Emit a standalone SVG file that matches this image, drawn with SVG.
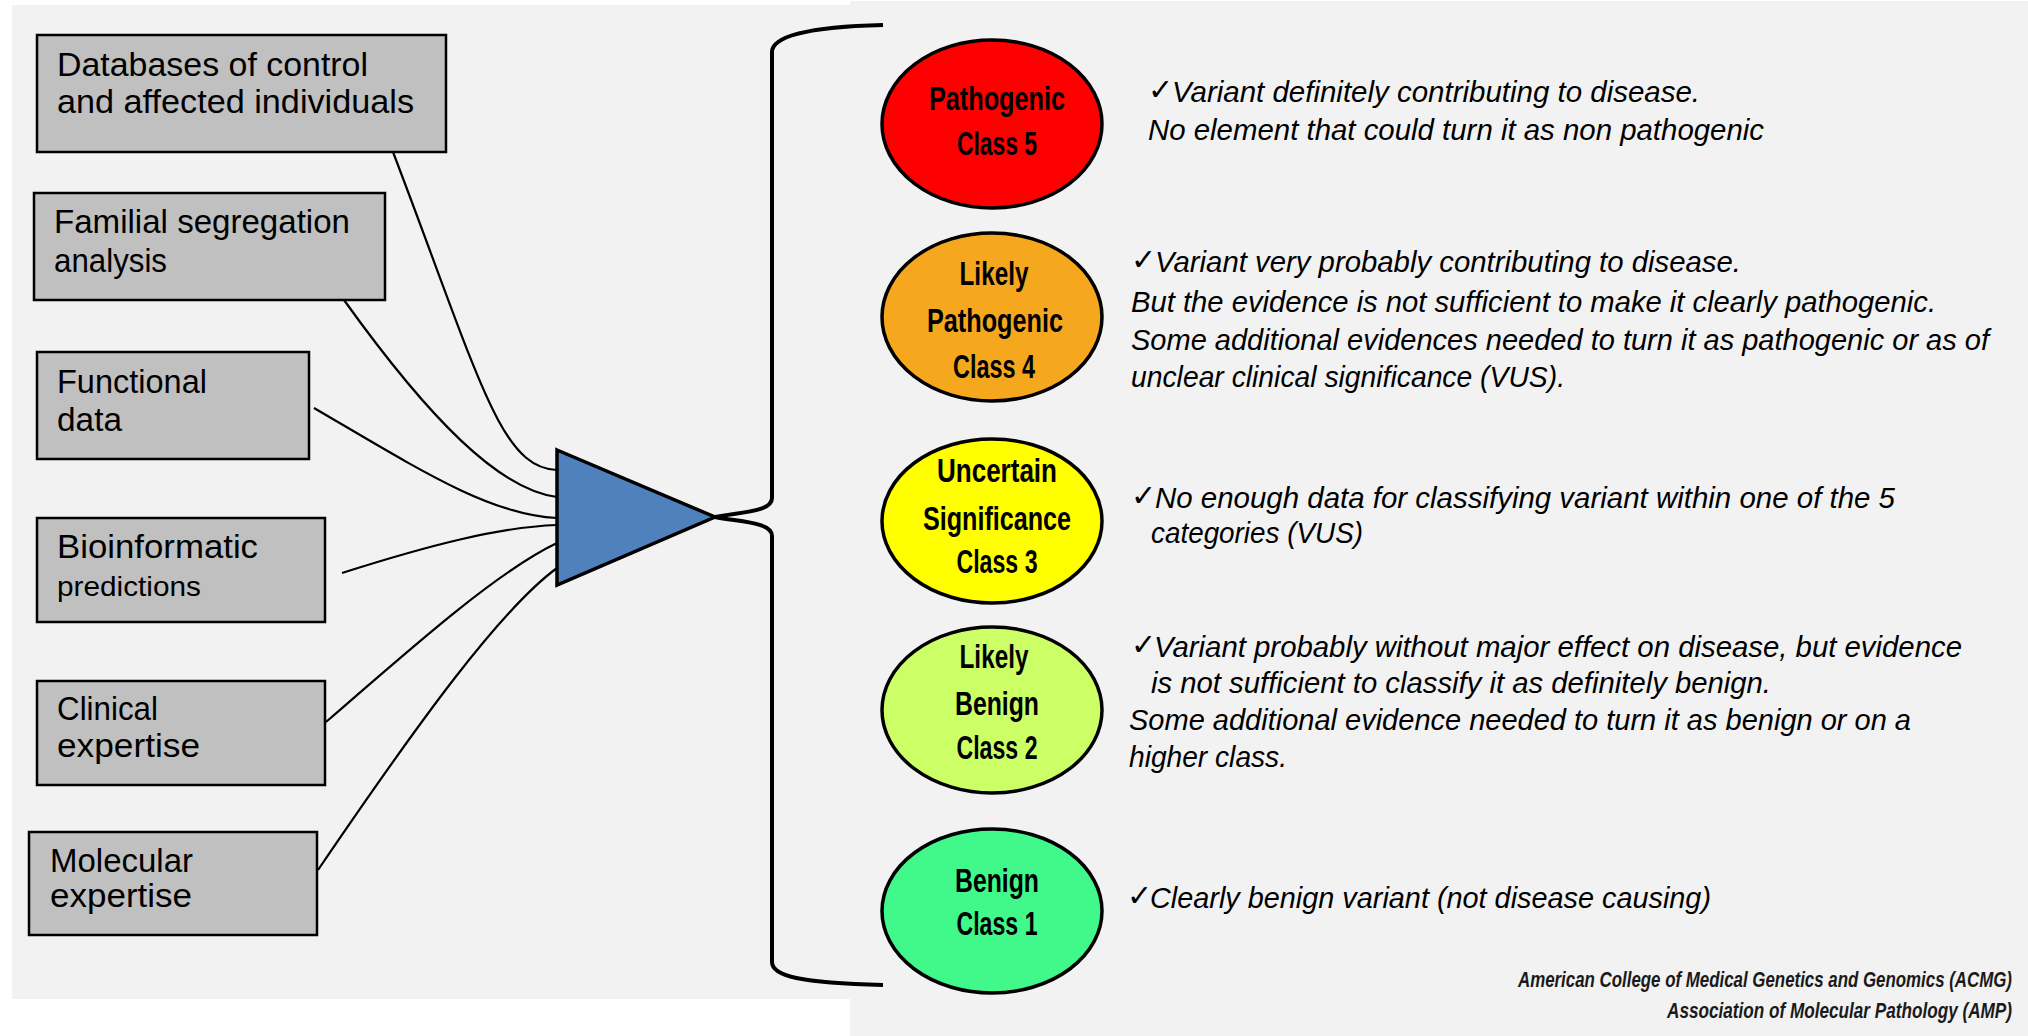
<svg xmlns="http://www.w3.org/2000/svg" width="2028" height="1036" viewBox="0 0 2028 1036">
<style>
.box{fill:#c0c0c0;stroke:#000;stroke-width:2.5}
.bt{font-family:"Liberation Sans","DejaVu Sans",sans-serif;font-size:33px;fill:#000}
.ct{font-family:"Liberation Sans",sans-serif;font-weight:bold;font-size:34px;fill:#000;text-anchor:middle}
.circ{stroke:#000;stroke-width:3.5}
.dt{font-family:"Liberation Sans",sans-serif;font-style:italic;font-size:30px;fill:#000}
.ck{font-family:"DejaVu Sans",sans-serif;font-size:30px;fill:#000}
.ft{font-family:"Liberation Sans",sans-serif;font-style:italic;font-weight:bold;font-size:17px;fill:#1a1a1a}
.con{fill:none;stroke:#000;stroke-width:2.2}
.br{fill:none;stroke:#000;stroke-width:4}
</style>
<rect x="0" y="0" width="2028" height="1036" fill="#ffffff"/>
<rect x="12" y="5" width="838" height="994" fill="#f2f2f2"/>
<rect x="850" y="1" width="1178" height="1035" fill="#f2f2f2"/>

<g id="connectors">
<path class="con" d="M393,152 C480,380 500,468 557,470"/>
<path class="con" d="M344,300 C430,420 500,490 557,497"/>
<path class="con" d="M314,408 C420,470 490,515 557,518"/>
<path class="con" d="M342,573 C430,545 500,527 557,525"/>
<path class="con" d="M326,722 C420,640 500,570 557,543"/>
<path class="con" d="M318,870 C420,720 500,610 557,568"/>
<path class="br" d="M715,517 C740,512 772,512 772,498 L772,52 C772,38 800,27 883,25"/>
<path class="br" d="M715,517 C740,522 772,522 772,536 L772,962 C772,976 800,983 883,985"/>
</g>

<g id="box1"><rect class="box" x="37" y="35" width="409" height="117"/>
<text class="bt" x="57" y="76" textLength="311" lengthAdjust="spacingAndGlyphs">Databases of control</text>
<text class="bt" x="57" y="113" textLength="357" lengthAdjust="spacingAndGlyphs">and affected individuals</text></g>
<g id="box2"><rect class="box" x="34" y="193" width="351" height="107"/>
<text class="bt" x="54" y="233" textLength="296" lengthAdjust="spacingAndGlyphs">Familial segregation</text>
<text class="bt" x="54" y="272" textLength="113" lengthAdjust="spacingAndGlyphs">analysis</text></g>
<g id="box3"><rect class="box" x="37" y="352" width="272" height="107"/>
<text class="bt" x="57" y="393" textLength="150" lengthAdjust="spacingAndGlyphs">Functional</text>
<text class="bt" x="57" y="431" textLength="65" lengthAdjust="spacingAndGlyphs">data</text></g>
<g id="box4"><rect class="box" x="37" y="518" width="288" height="104"/>
<text class="bt" x="57" y="558" textLength="201" lengthAdjust="spacingAndGlyphs">Bioinformatic</text>
<text class="bt" x="57" y="596" style="font-size:28px" textLength="144" lengthAdjust="spacingAndGlyphs">predictions</text></g>
<g id="box5"><rect class="box" x="37" y="681" width="288" height="104"/>
<text class="bt" x="57" y="720" textLength="101" lengthAdjust="spacingAndGlyphs">Clinical</text>
<text class="bt" x="57" y="757" textLength="143" lengthAdjust="spacingAndGlyphs">expertise</text></g>
<g id="box6"><rect class="box" x="29" y="832" width="288" height="103"/>
<text class="bt" x="50" y="872" textLength="143" lengthAdjust="spacingAndGlyphs">Molecular</text>
<text class="bt" x="50" y="907" textLength="142" lengthAdjust="spacingAndGlyphs">expertise</text></g>

<g id="triangle"><polygon points="557,450 715,517 557,585" fill="#4f81bd" stroke="#000" stroke-width="3.5" stroke-linejoin="miter"/></g>

<g id="class5"><ellipse class="circ" cx="992" cy="124" rx="110" ry="84" fill="#ff0000"/>
<text class="ct" x="997" y="110" textLength="136" lengthAdjust="spacingAndGlyphs">Pathogenic</text>
<text class="ct" x="997" y="155" textLength="80" lengthAdjust="spacingAndGlyphs">Class 5</text></g>
<g id="class4"><ellipse class="circ" cx="992" cy="317" rx="110" ry="84" fill="#f5a71d"/>
<text class="ct" x="994" y="285" textLength="69" lengthAdjust="spacingAndGlyphs">Likely</text>
<text class="ct" x="995" y="332" textLength="136" lengthAdjust="spacingAndGlyphs">Pathogenic</text>
<text class="ct" x="994" y="378" textLength="82" lengthAdjust="spacingAndGlyphs">Class 4</text></g>
<g id="class3"><ellipse class="circ" cx="992" cy="521" rx="110" ry="82" fill="#ffff00"/>
<text class="ct" x="997" y="482" textLength="120" lengthAdjust="spacingAndGlyphs">Uncertain</text>
<text class="ct" x="997" y="530" textLength="148" lengthAdjust="spacingAndGlyphs">Significance</text>
<text class="ct" x="997" y="573" textLength="81" lengthAdjust="spacingAndGlyphs">Class 3</text></g>
<g id="class2"><ellipse class="circ" cx="992" cy="710" rx="110" ry="83" fill="#ccff66"/>
<text class="ct" x="994" y="668" textLength="69" lengthAdjust="spacingAndGlyphs">Likely</text>
<text class="ct" x="997" y="715" textLength="84" lengthAdjust="spacingAndGlyphs">Benign</text>
<text class="ct" x="997" y="759" textLength="81" lengthAdjust="spacingAndGlyphs">Class 2</text></g>
<g id="class1"><ellipse class="circ" cx="992" cy="911" rx="110" ry="82" fill="#40f98a"/>
<text class="ct" x="997" y="892" textLength="84" lengthAdjust="spacingAndGlyphs">Benign</text>
<text class="ct" x="997" y="935" textLength="81" lengthAdjust="spacingAndGlyphs">Class 1</text></g>

<g id="desc5">
<text class="ck" x="1148" y="100">✓</text>
<text class="dt" x="1172" y="102" textLength="528" lengthAdjust="spacingAndGlyphs">Variant definitely contributing to disease.</text>
<text class="dt" x="1148" y="140" textLength="616" lengthAdjust="spacingAndGlyphs">No element that could turn it as non pathogenic</text>
</g>
<g id="desc4">
<text class="ck" x="1131" y="270">✓</text>
<text class="dt" x="1155" y="272" textLength="586" lengthAdjust="spacingAndGlyphs">Variant very probably contributing to disease.</text>
<text class="dt" x="1131" y="312" textLength="805" lengthAdjust="spacingAndGlyphs">But the evidence is not sufficient to make it clearly pathogenic.</text>
<text class="dt" x="1131" y="350" textLength="858" lengthAdjust="spacingAndGlyphs">Some additional evidences needed to turn it as pathogenic or as of</text>
<text class="dt" x="1131" y="387" textLength="434" lengthAdjust="spacingAndGlyphs">unclear clinical significance (VUS).</text>
</g>
<g id="desc3">
<text class="ck" x="1131" y="506">✓</text>
<text class="dt" x="1155" y="508" textLength="740" lengthAdjust="spacingAndGlyphs">No enough data for classifying variant within one of the 5</text>
<text class="dt" x="1151" y="543" textLength="212" lengthAdjust="spacingAndGlyphs">categories (VUS)</text>
</g>
<g id="desc2">
<text class="ck" x="1131" y="655">✓</text>
<text class="dt" x="1154" y="657" textLength="808" lengthAdjust="spacingAndGlyphs">Variant probably without major effect on disease, but evidence</text>
<text class="dt" x="1151" y="693" textLength="620" lengthAdjust="spacingAndGlyphs">is not sufficient to classify it as definitely benign.</text>
<text class="dt" x="1129" y="730" textLength="782" lengthAdjust="spacingAndGlyphs">Some additional evidence needed to turn it as benign or on a</text>
<text class="dt" x="1129" y="767" textLength="158" lengthAdjust="spacingAndGlyphs">higher class.</text>
</g>
<g id="desc1">
<text class="ck" x="1127" y="906">✓</text>
<text class="dt" x="1150" y="908" textLength="561" lengthAdjust="spacingAndGlyphs">Clearly benign variant (not disease causing)</text>
</g>
<g id="footer">
<text class="ft" x="1518" y="987" transform="matrix(1,0,0,1.25,0,-246.75)" textLength="494" lengthAdjust="spacingAndGlyphs">American College of Medical Genetics and Genomics (ACMG)</text>
<text class="ft" x="1667" y="1018" transform="matrix(1,0,0,1.25,0,-254.5)" textLength="345" lengthAdjust="spacingAndGlyphs">Association of Molecular Pathology (AMP)</text>
</g>
</svg>
